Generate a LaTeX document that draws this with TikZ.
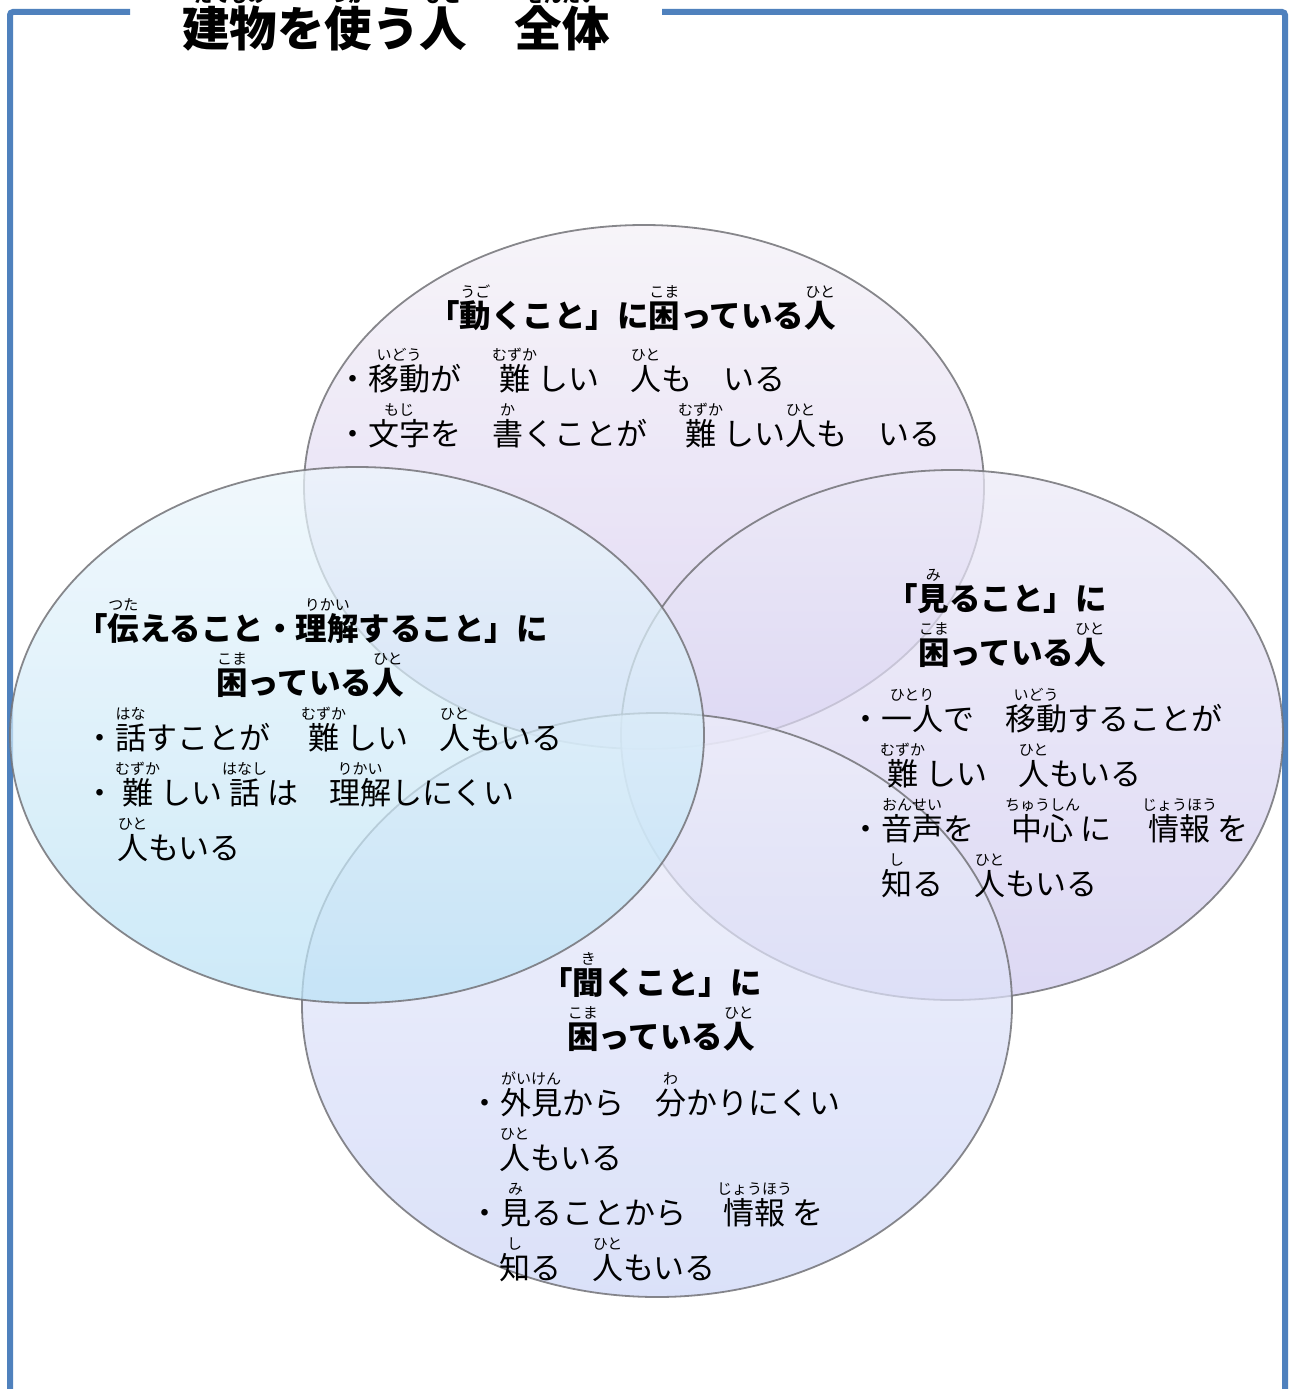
\documentclass[tikz,border=0pt]{standalone}
\usepackage{fontspec}
\setmainfont{Noto Sans CJK JP}
\newlength\rbraise \setlength\rbraise{30pt}
\newcommand\rubyfont{\fontsize{15}{15}\selectfont\mdseries}
\newsavebox\rbbase \newsavebox\rbtop \newlength\rbw
\newcommand\rb[2]{\sbox\rbbase{#1}\sbox\rbtop{\rubyfont #2}%
 \ifdim\wd\rbbase>\wd\rbtop \setlength\rbw{\wd\rbbase}\else\setlength\rbw{\wd\rbtop}\fi
 \leavevmode\rlap{\hbox to\rbw{\hss\raisebox{\rbraise}{\usebox\rbtop}\hss}}\hbox to\rbw{\hss\usebox\rbbase\hss}}
\definecolor{frameblue}{RGB}{79,129,189}
\definecolor{edge}{RGB}{115,115,120}
\tikzset{
  bodytext/.style={inner sep=0pt, font=\fontsize{31}{31}\selectfont},
  headtext/.style={inner sep=0pt, font=\fontsize{31.5}{31.5}\selectfont\bfseries},
  bubble/.style={draw=edge, line width=1.8pt, fill opacity=0.72, draw opacity=0.85},
  framel/.style={draw=frameblue, line width=6pt, rounded corners=3pt}
}
\begin{document}
\begin{tikzpicture}[x=1pt,y=-1pt]
\useasboundingbox (0,0) rectangle (1290,1389);
\fill[white] (0,0) rectangle (1290,1389);
% frame
\draw[framel] (130,12) -- (10,12) -- (10,1420);
\draw[framel] (662,12) -- (1285,12) -- (1285,1420);
% title
\node[inner sep=0pt, anchor=base west, font=\fontsize{47.5}{47.5}\selectfont\bfseries] (title) at (182,47)
 {\setlength\rbraise{44pt}\renewcommand\rubyfont{\fontsize{18}{18}\selectfont}\rb{建物}{たてもの}を\rb{使}{つか}う\rb{人}{ひと}　\rb{全体}{ぜんたい}};
% ellipses
\shade[bubble, top color={rgb,255:red,244;green,241;blue,247}, bottom color={rgb,255:red,212;green,200;blue,240}] (644,487) ellipse [x radius=340, y radius=262];
\shade[bubble, top color={rgb,255:red,236;green,234;blue,248}, bottom color={rgb,255:red,208;green,202;blue,240}] (952,735) ellipse [x radius=331, y radius=265];
\shade[bubble, top color={rgb,255:red,238;green,238;blue,250}, bottom color={rgb,255:red,205;green,214;blue,248}] (657,1005) ellipse [x radius=355, y radius=292];
\shade[bubble, top color={rgb,255:red,236;green,246;blue,252}, bottom color={rgb,255:red,186;green,226;blue,246}] (357,735) ellipse [x radius=347, y radius=268];
% top ellipse text
\node[headtext, anchor=base] (t1) at (632,327) {「\rb{動}{うご}くこと」に\rb{困}{こま}っている\rb{人}{ひと}};
\node[bodytext, anchor=base west] (t2) at (337,390) {・\rb{移動}{いどう}が　\rb{難}{むずか}しい　\rb{人}{ひと}も　いる};
\node[bodytext, anchor=base west] (t3) at (337,445) {・\rb{文字}{もじ}を　\rb{書}{か}くことが　\rb{難}{むずか}しい\rb{人}{ひと}も　いる};
% left ellipse text
\node[headtext, anchor=base] (l1) at (312,640) {「\rb{伝}{つた}えること・\rb{理解}{りかい}すること」に};
\node[headtext, anchor=base] (l2) at (310,694) {\rb{困}{こま}っている\rb{人}{ひと}};
\node[bodytext, anchor=base west] (l3) at (84,749) {・\rb{話}{はな}すことが　\rb{難}{むずか}しい　\rb{人}{ひと}もいる};
\node[bodytext, anchor=base west] (l4) at (84,804) {・\rb{難}{むずか}しい\rb{話}{はなし}は　\rb{理解}{りかい}しにくい};
\node[bodytext, anchor=base west] (l5) at (117,859) {\rb{人}{ひと}もいる};
% right ellipse text
\node[headtext, anchor=base west] (r1) at (886,610) {「\rb{見}{み}ること」に};
\node[headtext, anchor=base west] (r2) at (918,664) {\rb{困}{こま}っている\rb{人}{ひと}};
\node[bodytext, anchor=base west] (r3) at (850,730) {・\rb{一人}{ひとり}で　\rb{移動}{いどう}することが};
\node[bodytext, anchor=base west] (r4) at (880,785) {\rb{難}{むずか}しい　\rb{人}{ひと}もいる};
\node[bodytext, anchor=base west] (r5) at (850,840) {・\rb{音声}{おんせい}を　\rb{中心}{ちゅうしん}に　\rb{情報}{じょうほう}を};
\node[bodytext, anchor=base west] (r6) at (881,895) {\rb{知}{し}る　\rb{人}{ひと}もいる};
% bottom ellipse text
\node[headtext, anchor=base west] (b1) at (541,994) {「\rb{聞}{き}くこと」に};
\node[headtext, anchor=base west] (b2) at (567,1048) {\rb{困}{こま}っている\rb{人}{ひと}};
\node[bodytext, anchor=base west] (b3) at (469,1114) {・\rb{外見}{がいけん}から　\rb{分}{わ}かりにくい};
\node[bodytext, anchor=base west] (b4) at (499,1169) {\rb{人}{ひと}もいる};
\node[bodytext, anchor=base west] (b5) at (469,1224) {・\rb{見}{み}ることから　\rb{情報}{じょうほう}を};
\node[bodytext, anchor=base west] (b6) at (499,1279) {\rb{知}{し}る　\rb{人}{ひと}もいる};
\end{tikzpicture}
\end{document}
